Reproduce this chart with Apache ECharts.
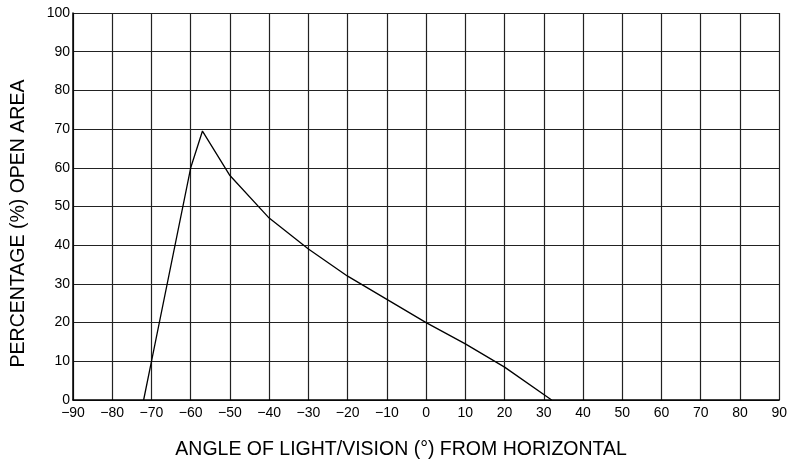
<!DOCTYPE html>
<html><head><meta charset="utf-8">
<script src="https://cdn.jsdelivr.net/npm/echarts@6/dist/echarts.min.js"></script>
<style>html,body{margin:0;padding:0;background:#fff}#c{width:790px;height:465px}</style>
</head><body><div id="c"></div>
<script>
var angles = [-72, -70, -60, -57, -50, -40, -30, -20, -10, 0, 10, 20, 32];
var openArea = [0, 10, 60, 69.5, 58, 47, 39, 32, 26, 20, 14.5, 8.5, 0];
var xName = 'ANGLE OF LIGHT/VISION (°) FROM HORIZONTAL';
var yName = 'PERCENTAGE (%) OPEN AREA';
var chart = echarts.init(document.getElementById('c'));
var font = 'Liberation Sans, Arial, sans-serif';
chart.setOption({
  animation: false,
  grid: {left: 73, right: 7, top: 13, bottom: 59},
  xAxis: {
    type: 'value', min: -90, max: 90, interval: 10,
    name: xName, nameLocation: 'middle', nameGap: 40,
    nameTextStyle: {fontFamily: font, fontSize: 19.5, color: '#000', padding: [0, 50, 0, 0]},
    axisLine: {show: true, onZero: false, lineStyle: {color: '#000', width: 1.5}},
    axisTick: {show: false},
    axisLabel: {fontFamily: font, fontSize: 14, color: '#000', margin: 6,
      formatter: function(v){ return v < 0 ? '\u2212' + Math.abs(v) : String(v); }},
    splitLine: {show: true, lineStyle: {color: '#222', width: 1.2}}
  },
  yAxis: {
    type: 'value', min: 0, max: 100, interval: 10,
    name: yName, nameLocation: 'middle', nameGap: 44,
    nameTextStyle: {fontFamily: font, fontSize: 19.5, color: '#000', padding: [0, 34, 0, 0]},
    axisLine: {show: true, onZero: false, lineStyle: {color: '#000', width: 1.5}},
    axisTick: {show: false},
    axisLabel: {fontFamily: font, fontSize: 14, color: '#000', margin: 3},
    splitLine: {show: true, lineStyle: {color: '#222', width: 1.2}}
  },
  series: [{
    type: 'line',
    data: angles.map(function(a, i){ return [a, openArea[i]]; }),
    showSymbol: false,
    lineStyle: {color: '#000', width: 1.3}
  }]
});
</script></body></html>
